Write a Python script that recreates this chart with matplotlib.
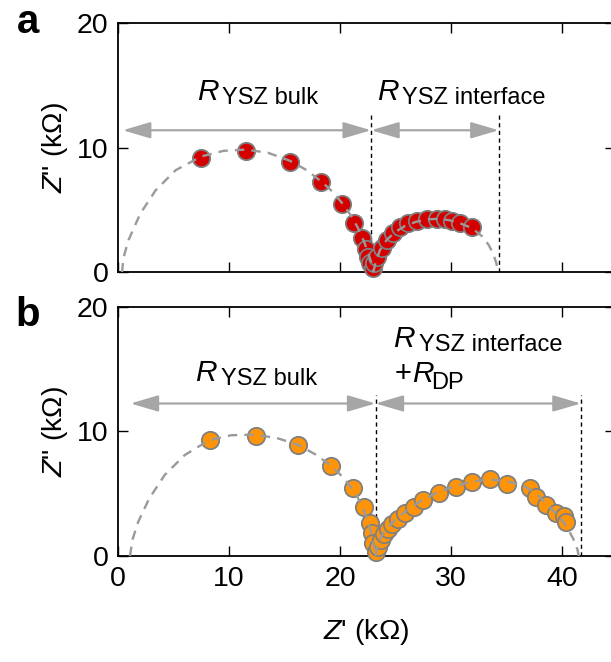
import matplotlib
matplotlib.use("Agg")
import matplotlib.pyplot as plt
from matplotlib.patches import FancyArrowPatch

plt.rcParams["font.family"] = ["Liberation Sans", "DejaVu Sans"]
plt.rcParams["mathtext.fontset"] = "custom"
plt.rcParams["mathtext.rm"] = "Liberation Sans"
plt.rcParams["mathtext.it"] = "Liberation Sans:italic"

# panel a: measured points (kOhm)
a_x = [7.52, 11.56, 15.46, 18.3, 20.2, 21.3, 21.95, 22.3, 22.5, 22.7, 22.95, 23.1, 23.3,
       23.75, 24.2, 24.8, 25.4, 26.15, 26.9, 27.8, 28.7, 29.46, 30.06, 30.8, 31.86]
a_y = [9.15, 9.74, 8.83, 7.28, 5.49, 3.99, 2.74, 1.86, 1.27, 0.73, 0.33, 0.73, 1.27,
       1.94, 2.6, 3.14, 3.62, 3.94, 4.15, 4.26, 4.26, 4.26, 4.15, 3.94, 3.62]

# panel a: fitted arcs
fit_a1_x = [0.36, 0.5, 0.95, 2.0, 3.4, 5.2, 7.5, 9.5, 11.5, 13.5, 15.5, 17.0, 18.3, 19.3,
            20.2, 21.0, 21.6, 22.2, 22.6, 22.9, 23.0]
fit_a1_y = [0.0, 1.2, 2.6, 4.7, 6.6, 8.2, 9.3, 9.75, 9.85, 9.6, 8.95, 8.2, 7.3, 6.5,
            5.55, 4.55, 3.6, 2.4, 1.4, 0.6, 0.0]
fit_a2_x = [23.0, 23.2, 23.6, 24.2, 24.9, 25.8, 26.8, 27.8, 28.8, 29.8, 30.8, 31.9, 32.8,
            33.4, 33.8, 34.1, 34.2]
fit_a2_y = [0.0, 0.8, 1.8, 2.6, 3.2, 3.7, 4.05, 4.25, 4.3, 4.2, 3.95, 3.55, 2.9,
            2.2, 1.5, 0.7, 0.0]

# panel b: measured points
b_x = [8.26, 12.43, 16.26, 19.2, 21.15, 22.2, 22.7, 22.9, 23.0, 23.2, 23.45, 23.7, 24.0,
       24.3, 24.7, 25.2, 25.9, 26.65, 27.5, 28.9, 30.45, 31.85, 33.5, 35.0, 37.1, 37.7,
       38.6, 39.5, 40.2, 40.35]
b_y = [9.32, 9.66, 8.92, 7.25, 5.44, 3.96, 2.63, 1.82, 1.02, 0.35, 0.75, 1.29, 1.75,
       2.14, 2.55, 3.0, 3.43, 3.96, 4.5, 5.1, 5.57, 5.92, 6.16, 5.78, 5.44, 4.7,
       4.1, 3.43, 3.2, 2.76]

fit_b1_x = [1.08, 1.3, 1.8, 2.8, 4.2, 6.0, 8.2, 10.2, 12.4, 14.4, 16.3, 17.8, 19.2, 20.3,
            21.2, 21.9, 22.5, 22.9, 23.1, 23.2]
fit_b1_y = [0.0, 1.3, 2.7, 4.6, 6.5, 8.1, 9.3, 9.7, 9.75, 9.45, 8.9, 8.15, 7.25, 6.3,
            5.3, 4.2, 2.9, 1.6, 0.7, 0.0]
fit_b2_x = [23.2, 23.4, 23.8, 24.4, 25.2, 26.2, 27.5, 29.0, 30.5, 32.0, 33.5, 35.0, 36.4,
            37.6, 38.7, 39.6, 40.4, 41.0, 41.4, 41.5]
fit_b2_y = [0.0, 0.9, 1.7, 2.4, 3.1, 3.8, 4.55, 5.2, 5.65, 6.0, 6.15, 6.0, 5.7,
            5.1, 4.1, 3.3, 2.4, 1.4, 0.5, 0.0]

# resistance boundaries: start, mid, end
a_bounds = [0.43, 22.8, 34.3]
b_bounds = [1.13, 23.2, 41.7]
a_arrow_y = 11.4
b_arrow_y = 12.25
vline_top = 12.9

x_ticks = [0, 10, 20, 30, 40]
y_ticks = [0, 10, 20]

GRAY = "#a6a6a6"


def draw_label(ax, x, y, main, sub):
    ax.text(x, y, main, fontsize=21.5, style="italic", ha="left", va="baseline")
    ax.annotate(sub, xy=(x, y), xytext=(18.5, -3), textcoords="offset points",
                fontsize=17, ha="left", va="baseline")


def setup(ax, show_x):
    ax.set_xlim(0, 44.77)
    ax.set_ylim(0, 20)
    ax.set_xticks(x_ticks)
    ax.set_yticks(y_ticks)
    ax.tick_params(direction="in", length=7, width=1, top=True, right=True,
                   labelsize=20.5, pad=7)
    if not show_x:
        ax.tick_params(labelbottom=False)
    for s in ax.spines.values():
        s.set_linewidth(1.3)
    ax.set_ylabel('$Z$" (kΩ)', fontsize=20.5, labelpad=5)


def panel(ax, xs, ys, color, fits, bounds, arrow_y):
    for fx, fy in fits:
        ax.plot(fx, fy, ls=(0, (4, 3)), color="#9a9a9a", lw=1.7, zorder=4)
    ax.plot(xs, ys, "o", ms=12.5, mfc=color, mec="#808080", mew=1.3, zorder=3, clip_on=False)
    for xv in bounds[1:]:
        ax.plot([xv, xv], [0, vline_top], ls=(0, (3, 2.5)), color="black", lw=1, zorder=2)
    for x0, x1 in [(bounds[0], bounds[1]), (bounds[1], bounds[2])]:
        arr = FancyArrowPatch((x0, arrow_y), (x1, arrow_y),
                              arrowstyle="<|-|>,head_length=1.7,head_width=0.5",
                              mutation_scale=10, color=GRAY, lw=1.6,
                              shrinkA=0, shrinkB=0, zorder=2)
        ax.add_patch(arr)


fig = plt.figure(figsize=(6.11, 6.62), dpi=100)
ax_a = fig.add_axes([0.1931, 0.5884, 0.8134, 0.3769])
ax_b = fig.add_axes([0.1931, 0.1601, 0.8134, 0.3762])

setup(ax_a, False)
setup(ax_b, True)

panel(ax_a, a_x, a_y, "#d40000", [(fit_a1_x, fit_a1_y), (fit_a2_x, fit_a2_y)], a_bounds, a_arrow_y)
panel(ax_b, b_x, b_y, "#ff9408", [(fit_b1_x, fit_b1_y), (fit_b2_x, fit_b2_y)], b_bounds, b_arrow_y)

draw_label(ax_a, 7.1, 13.85, "R", "YSZ bulk")
draw_label(ax_a, 23.3, 13.85, "R", "YSZ interface")
draw_label(ax_b, 6.95, 14.05, "R", "YSZ bulk")
draw_label(ax_b, 24.8, 16.8, "R", "YSZ interface")
ax_b.text(24.95, 14.0, "+", fontsize=21, ha="left", va="baseline")
ax_b.annotate("R", xy=(24.95, 14.0), xytext=(12, 0), textcoords="offset points",
              fontsize=21.5, style="italic", ha="left", va="baseline")
ax_b.annotate("DP", xy=(24.95, 14.0), xytext=(26, -5), textcoords="offset points",
              fontsize=17, ha="left", va="baseline")

ax_b.set_xlabel("$Z$' (kΩ)", fontsize=20.5, labelpad=18)

fig.text(0.028, 0.95, "a", fontsize=29, fontweight="bold", ha="left", va="baseline")
fig.text(0.026, 0.507, "b", fontsize=29, fontweight="bold", ha="left", va="baseline")

fig.savefig("out.png", dpi=100)
